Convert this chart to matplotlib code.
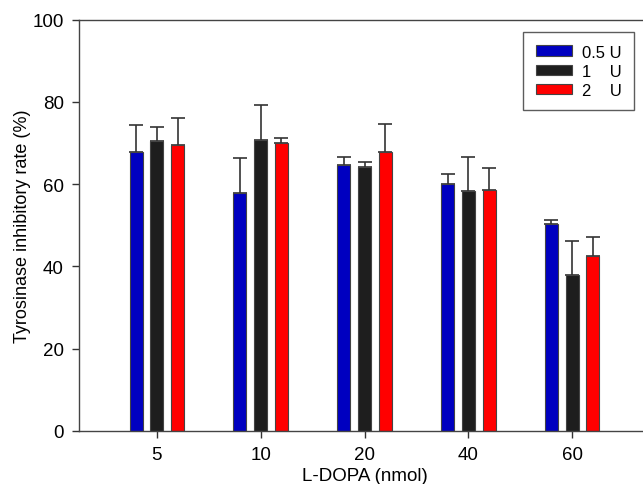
import matplotlib
matplotlib.use("Agg")
from matplotlib import pyplot as plt
import numpy as np

plt.rcParams["font.family"] = ["Liberation Sans", "DejaVu Sans"]

# data
doses = ["5", "10", "20", "40", "60"]
series = ["0.5 U", "1    U", "2    U"]
rate_05 = [67.9, 57.9, 64.7, 60.0, 50.3]
rate_1 = [70.5, 70.7, 64.2, 58.4, 37.9]
rate_2 = [69.6, 69.9, 67.8, 58.5, 42.4]
err_05 = [6.5, 8.5, 2.0, 2.5, 0.9]
err_1 = [3.4, 8.5, 1.1, 8.2, 8.3]
err_2 = [6.4, 1.4, 6.8, 5.3, 4.7]
colors = ["#0000C0", "#1E1E1E", "#FF0000"]

fig = plt.figure(figsize=(6.43, 4.85), dpi=100)
ax = fig.add_axes([0.1229, 0.1099, 0.888, 0.8474])

x = np.arange(len(doses))
offsets = [-0.2, 0.0, 0.2]
width = 0.125
for vals, errs, col, lab, off in zip(
    [rate_05, rate_1, rate_2], [err_05, err_1, err_2], colors, series, offsets
):
    ax.bar(x + off, vals, width=width, color=col, edgecolor="#444444",
           linewidth=0.8, label=lab, zorder=2)
    ax.errorbar(x + off, vals, yerr=[np.zeros(len(errs)), errs], fmt="none",
                ecolor="#333333", elinewidth=1.2, capsize=4.7, capthick=1.2,
                zorder=1)

ax.set_xlim(-0.75, 4.75)
ax.set_ylim(0, 100)
ax.set_xticks(x)
ax.set_xticklabels(doses)
ax.set_yticks([0, 20, 40, 60, 80, 100])
ax.tick_params(axis="both", labelsize=13.5, direction="out", length=5,
               width=1, color="#333333", pad=6)
for s in ax.spines.values():
    s.set_color("#444444")
    s.set_linewidth(1)

ax.set_xlabel("L-DOPA (nmol)", fontsize=13.5, labelpad=3)
ax.set_ylabel("Tyrosinase inhibitory rate (%)", fontsize=13, labelpad=1)

leg = ax.legend(loc="upper left", bbox_to_anchor=(0.778, 0.97), fontsize=12,
                frameon=True, fancybox=False, handlelength=2.2,
                handleheight=0.6, borderpad=0.75, labelspacing=0.25,
                handletextpad=0.55, borderaxespad=0)
leg.get_frame().set_edgecolor("#333333")
leg.get_frame().set_linewidth(1)

plt.savefig("out.png", dpi=100)
